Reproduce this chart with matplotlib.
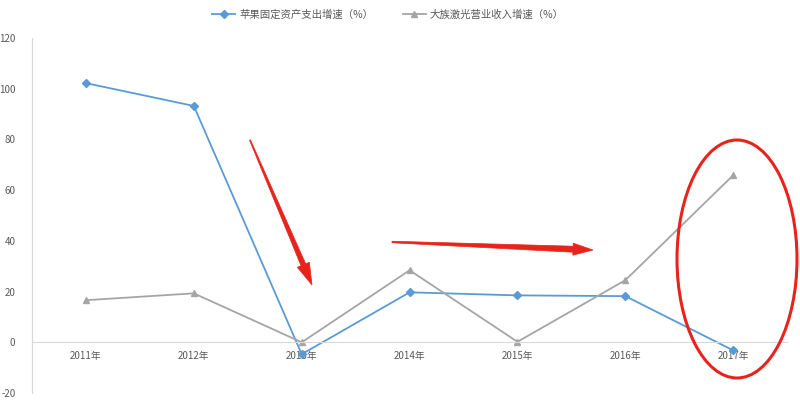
import matplotlib.pyplot as plt
from matplotlib.patches import Ellipse, Polygon
import numpy as np

plt.rcParams['font.family'] = ['Noto Sans CJK SC', 'DejaVu Sans']
plt.rcParams['axes.unicode_minus'] = False

years = ['2011年', '2012年', '2013年', '2014年', '2015年', '2016年', '2017年']
apple_capex = [102.2, 93.2, -4.7, 19.7, 18.5, 18.2, -3.2]
hans_revenue = [16.6, 19.3, 0.0, 28.4, 0.2, 24.5, 65.9]
y_ticks = [-20, 0, 20, 40, 60, 80, 100, 120]

blue = '#5B9BD5'
gray = '#A5A5A5'
red = '#E8231B'

fig = plt.figure(figsize=(8, 4.05), dpi=100)
ax = fig.add_axes([0.04, 0.0296, 0.944, 0.8766])

x = np.arange(len(years))
ax.plot(x, apple_capex, color=blue, lw=1.3, marker='D', ms=4, label='苹果固定资产支出增速（%）')
ax.plot(x, hans_revenue, color=gray, lw=1.3, marker='^', ms=5, label='大族激光营业收入增速（%）')

ax.set_xlim(-0.5, len(years) - 0.5)
ax.set_ylim(-20, 120)
ax.set_yticks(y_ticks)
ax.set_xticks(x)
ax.set_xticklabels(years)
ax.tick_params(length=0, labelsize=7, colors='#595959')
ax.tick_params(axis='x', pad=6)
ax.tick_params(axis='y', pad=12)

for s in ['top', 'right']:
    ax.spines[s].set_visible(False)
ax.spines['bottom'].set_position(('data', 0))
ax.spines['bottom'].set_color('#D9D9D9')
ax.spines['left'].set_color('#D9D9D9')

leg = fig.legend(loc='upper center', bbox_to_anchor=(0.485, 1.0), ncol=2, frameon=False,
                 fontsize=7.5, handlelength=2.2, handletextpad=0.4, columnspacing=2.8)
for t in leg.get_texts():
    t.set_color('#595959')


# red hand-drawn style arrows, in pixel coords of the picture
def arrow(x0, y0, x1, y1, w0=1.0, w1=5.0, hw=13.0, hl=22.0):
    p0 = np.array([x0, 405 - y0], float)
    p1 = np.array([x1, 405 - y1], float)
    d = p1 - p0
    L = np.hypot(*d)
    u = d / L
    n = np.array([-u[1], u[0]])
    b = p1 - u * hl
    pts = [p0 + n * w0 / 2, b + n * w1 / 2, b + n * hw / 2, p1,
           b - n * hw / 2, b - n * w1 / 2, p0 - n * w0 / 2]
    pts = [(p[0] / 800, p[1] / 405) for p in pts]
    fig.patches.append(Polygon(pts, closed=True, transform=fig.transFigure,
                               facecolor=red, edgecolor=red, lw=0.5))


arrow(250, 140, 312, 285)
arrow(392, 242, 593, 250, w0=1.5, w1=6.0, hw=12.0, hl=20.0)

fig.patches.append(Ellipse((737 / 800, 1 - 259 / 405), 120 / 800, 238 / 405,
                           transform=fig.transFigure, fill=False, edgecolor=red, lw=2.2))

fig.savefig('out.png', dpi=100)
